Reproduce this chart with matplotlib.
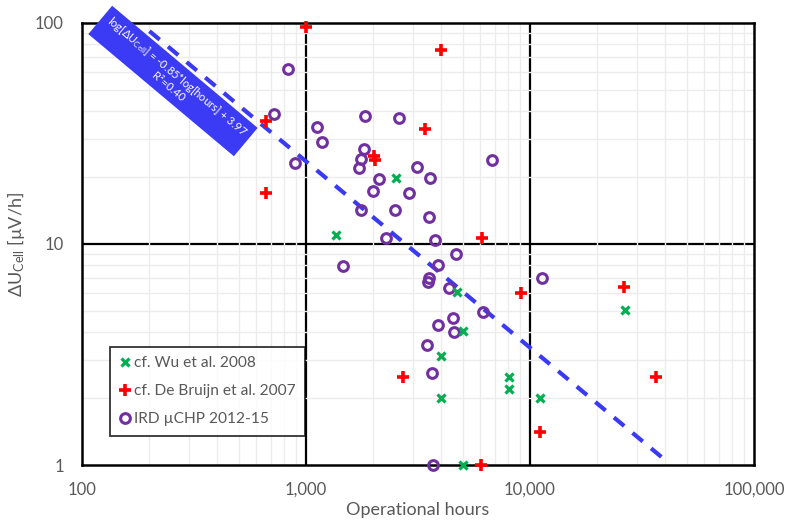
import matplotlib
matplotlib.use("Agg")
import matplotlib.pyplot as plt
import numpy as np
from matplotlib.ticker import FixedLocator, NullFormatter, FuncFormatter
from matplotlib.patches import Rectangle
from matplotlib.transforms import Affine2D

plt.rcParams['font.family'] = ['Lato', 'DejaVu Sans']
plt.rcParams['mathtext.fontset'] = 'custom'
plt.rcParams['mathtext.rm'] = 'Lato'
plt.rcParams['mathtext.it'] = 'Lato:italic'

# ---- data ----
wu_hours = [1361, 2523, 4720, 5020, 4010, 4010, 8060, 8060, 11090, 26550, 5020]
wu_du    = [11.0, 19.9, 6.07, 4.03, 3.11, 2.01, 2.50, 2.21, 2.01, 5.02, 1.0]

db_hours = [1000, 4010, 662, 662, 2015, 2030, 3398, 6105, 9080, 2718, 11120, 6040, 26300, 36400]
db_du    = [95.9, 75.5, 36.0, 17.0, 25.0, 24.0, 33.1, 10.6, 5.98, 2.51, 1.41, 1.0, 6.41, 2.51]

ird_hours = [828, 722, 893, 1120, 1175, 1833, 2600, 1820, 1762, 1719, 2123, 1986,
             3141, 3581, 2890, 1766, 2495, 3534, 2270, 3776, 4678, 6745, 1468, 3900,
             3541, 3520, 4348, 6150, 4550, 3873, 4580, 3458, 3662, 3700, 11350]
ird_du    = [61.9, 38.9, 23.2, 34.0, 29.0, 38.1, 37.1, 26.9, 24.2, 22.0, 19.6, 17.4,
             22.2, 19.95, 17.1, 14.3, 14.3, 13.3, 10.6, 10.4, 9.0, 24.0, 7.95, 8.04,
             7.03, 6.71, 6.31, 4.91, 4.61, 4.30, 4.01, 3.49, 2.60, 1.0, 7.0]

# trend line as drawn in the picture (log10 y = slope*log10 x + intercept)
trend_slope = -0.843
trend_intercept = 3.903
trend_range = [200, 38800]
trend_label = 'log[$\\Delta$U$_{\\mathrm{Cell}}$] = -0.85*log[hours] + 3.97\nR²=0.40'

x_ticks = [100, 1000, 10000, 100000]
y_ticks = [1, 10, 100]

# ---- figure ----
fig = plt.figure(figsize=(7.88, 5.22), dpi=100)
ax = fig.add_axes([82/788, 1-465/522, 672/788, 442/522])
ax.set_xscale('log')
ax.set_yscale('log')
ax.set_xlim(100, 100000)
ax.set_ylim(1, 100)

minor_x = [m*10**e for e in range(2, 5) for m in range(2, 10)]
minor_y = [m*10**e for e in range(0, 2) for m in range(2, 10)]
ax.xaxis.set_minor_locator(FixedLocator(minor_x))
ax.yaxis.set_minor_locator(FixedLocator(minor_y))
ax.xaxis.set_minor_formatter(NullFormatter())
ax.yaxis.set_minor_formatter(NullFormatter())
ax.grid(which='minor', color='#ececec', linewidth=1.0, zorder=0)
for xv in x_ticks[1:-1]:
    ax.axvline(xv, color='black', linewidth=1.6, zorder=1)
for yv in y_ticks[1:-1]:
    ax.axhline(yv, color='black', linewidth=1.6, zorder=1)

ax.xaxis.set_major_locator(FixedLocator(x_ticks))
ax.yaxis.set_major_locator(FixedLocator(y_ticks))
ax.xaxis.set_major_formatter(FuncFormatter(lambda v, p: f"{int(round(v)):,}"))
ax.yaxis.set_major_formatter(FuncFormatter(lambda v, p: f"{int(round(v))}"))
ax.tick_params(which='both', length=0, colors='#595959', labelsize=12)
ax.tick_params(axis='x', pad=12)
ax.tick_params(axis='y', pad=13)
for s in ax.spines.values():
    s.set_linewidth(1.8)
    s.set_color('black')

# trend line
fx = np.array(trend_range, dtype=float)
fy = 10**(trend_intercept + trend_slope*np.log10(fx))
ax.plot(fx, fy, color='#3a3af5', linewidth=3, dashes=(3.2, 2.6), zorder=2,
        solid_capstyle='butt')

# scatter
ax.plot(wu_hours, wu_du, linestyle='none', marker='x', color='#00b050',
        markersize=6, markeredgewidth=2.3, zorder=4, label='cf. Wu et al. 2008', clip_on=False)
ax.plot(db_hours, db_du, linestyle='none', marker='+', color='#ff0000',
        markersize=9, markeredgewidth=2.6, zorder=4, label='cf. De Bruijn et al. 2007', clip_on=False)
ax.plot(ird_hours, ird_du, linestyle='none', marker='o', markerfacecolor='none',
        markeredgecolor='#7030a0', markersize=7, markeredgewidth=2.2, zorder=3,
        label='IRD µCHP 2012-15', clip_on=False)

leg = ax.legend(loc='upper left', bbox_to_anchor=(0.042, 0.267), frameon=True,
                fancybox=False, edgecolor='black', fontsize=11.2, handlelength=0.7,
                handletextpad=0.25, borderpad=0.6, labelspacing=0.9, labelcolor='#595959',
                borderaxespad=0)
leg.get_frame().set_linewidth(1.3)
leg.set_zorder(5)

# annotation: rotated blue box with white equation text (display-pixel placement)
cx, cy = 173, 522 - 81
box_tr = Affine2D().rotate_deg(-40).translate(cx, cy)
box = Rectangle((-95, -18.5), 190, 37, transform=box_tr, facecolor='#3b3bf5',
                edgecolor='none', zorder=6, clip_on=False)
fig.add_artist(box)
fig.text(cx / 788, cy / 522, trend_label, rotation=-40, rotation_mode='anchor',
         ha='center', va='center', multialignment='center', color='white',
         fontsize=8, linespacing=1.05, zorder=7)

ax.set_xlabel('Operational hours', fontsize=13, color='#595959', labelpad=3)
ax.set_ylabel('$\\Delta$U$_{\\mathrm{Cell}}$ [µV/h]', fontsize=13, color='#595959', labelpad=6)

fig.savefig('out.png', dpi=100)
